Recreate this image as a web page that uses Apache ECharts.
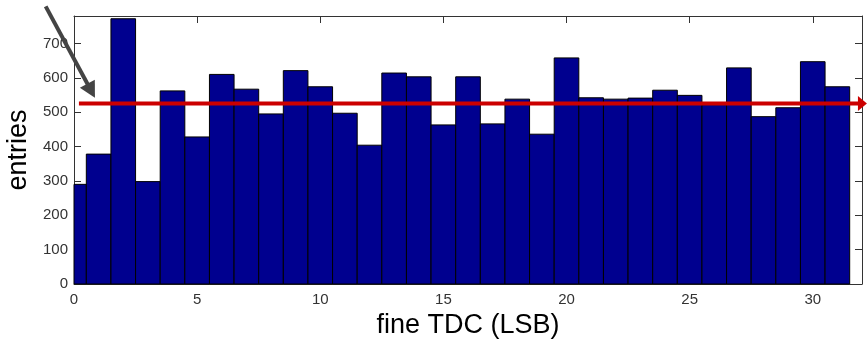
<!DOCTYPE html>
<html>
<head>
<meta charset="utf-8">
<script src="https://cdn.jsdelivr.net/npm/echarts@6/dist/echarts.min.js"></script>
<style>
  html, body { margin: 0; padding: 0; background: #fff; }
  #main { width: 867px; height: 341px; }
</style>
</head>
<body>
<div id="main"></div>
<script>
// bins 0..31 of the fine TDC, counts
const bins = [0, 1, 2, 3, 4, 5, 6, 7, 8, 9, 10, 11, 12, 13, 14, 15,
  16, 17, 18, 19, 20, 21, 22, 23, 24, 25, 26, 27, 28, 29, 30, 31]
const entries = [290, 378, 772, 298, 562, 428, 610, 567, 495, 621, 574, 497, 404, 614, 603, 463,
  603, 466, 538, 436, 658, 542, 538, 541, 564, 549, 522, 629, 487, 513, 647, 574]
// annotation arrows [x0, y0, xTip, yTip] in data units: mean level (red) and pointer (grey)
const meanLine = [0.2, 525, 32.2, 525]
const pointer = [-1.15, 808, 0.85, 542]
const arrowColors = ['#cc0000', '#444']

const axisColor = '#333'
const font = 'Arial, "Liberation Sans", sans-serif'

const chart = echarts.init(document.getElementById('main'))

const xBase = {
  type: 'value', min: 0, max: 32, interval: 5,
  splitLine: { show: false },
  axisLine: { show: true, onZero: false, lineStyle: { color: axisColor, width: 1 } },
  axisTick: { show: true, inside: true, length: 7, lineStyle: { color: axisColor } }
}
const yBase = {
  type: 'value', min: 0, max: 780, interval: 100,
  splitLine: { show: false },
  axisLine: { show: true, onZero: false, lineStyle: { color: axisColor, width: 1 } },
  axisTick: { show: true, inside: true, length: 7, lineStyle: { color: axisColor } }
}

chart.setOption({
  animation: false,
  backgroundColor: '#fff',
  grid: { left: 74, right: 5, top: 16, bottom: 57, outerBoundsMode: 'none' },
  xAxis: [
    Object.assign({}, xBase, {
      position: 'bottom',
      name: 'fine TDC (LSB)', nameLocation: 'middle', nameGap: 27,
      nameTextStyle: { fontFamily: font, fontSize: 27, color: '#000' },
      axisLabel: {
        fontFamily: font, fontSize: 15, color: axisColor, margin: 8,
        formatter: v => (v % 5 === 0 ? String(v) : '')
      }
    }),
    Object.assign({}, xBase, { position: 'top', axisLabel: { show: false } })
  ],
  yAxis: [
    Object.assign({}, yBase, {
      position: 'left',
      name: 'entries', nameLocation: 'middle', nameGap: 38,
      nameTextStyle: { fontFamily: font, fontSize: 27, color: '#000' },
      axisLabel: {
        fontFamily: font, fontSize: 15, color: axisColor, margin: 6,
        formatter: v => (v % 100 === 0 ? String(v) : '')
      }
    }),
    Object.assign({}, yBase, { position: 'right', axisLabel: { show: false } })
  ],
  series: [
    {
      type: 'custom',
      xAxisIndex: 0, yAxisIndex: 0,
      data: bins.map((b, i) => [b, entries[i]]),
      renderItem(params, api) {
        const x = api.value(0)
        const y = api.value(1)
        const p0 = api.coord([x - 0.5, y])
        const p1 = api.coord([x + 0.5, 0])
        const cs = params.coordSys
        const shape = echarts.graphic.clipRectByRect(
          { x: p0[0], y: p0[1], width: p1[0] - p0[0], height: p1[1] - p0[1] },
          { x: cs.x, y: cs.y, width: cs.width, height: cs.height }
        )
        return shape && {
          type: 'rect',
          shape: shape,
          style: { fill: '#00008f', stroke: '#000', lineWidth: 1 }
        }
      }
    },
    {
      // arrows drawn through the axes, allowed to run outside the plot box
      type: 'custom',
      xAxisIndex: 0, yAxisIndex: 0,
      silent: true,
      clip: false,
      z: 5,
      data: [meanLine, pointer],
      renderItem(params, api) {
        const a = api.coord([api.value(0), api.value(1)])
        const b = api.coord([api.value(2), api.value(3)])
        const color = arrowColors[params.dataIndex]
        const len = params.dataIndex === 0 ? 9 : 16
        const half = params.dataIndex === 0 ? 7.5 : 8.5
        const dx = b[0] - a[0], dy = b[1] - a[1]
        const d = Math.sqrt(dx * dx + dy * dy)
        const ux = dx / d, uy = dy / d
        const base = [b[0] - ux * len, b[1] - uy * len]
        return {
          type: 'group',
          children: [
            {
              type: 'line',
              shape: { x1: a[0], y1: a[1], x2: base[0] + ux, y2: base[1] + uy },
              style: { stroke: color, lineWidth: 4 }
            },
            {
              type: 'polygon',
              shape: { points: [b, [base[0] - uy * half, base[1] + ux * half], [base[0] + uy * half, base[1] - ux * half]] },
              style: { fill: color }
            }
          ]
        }
      }
    }
  ]
})
</script>
</body>
</html>
